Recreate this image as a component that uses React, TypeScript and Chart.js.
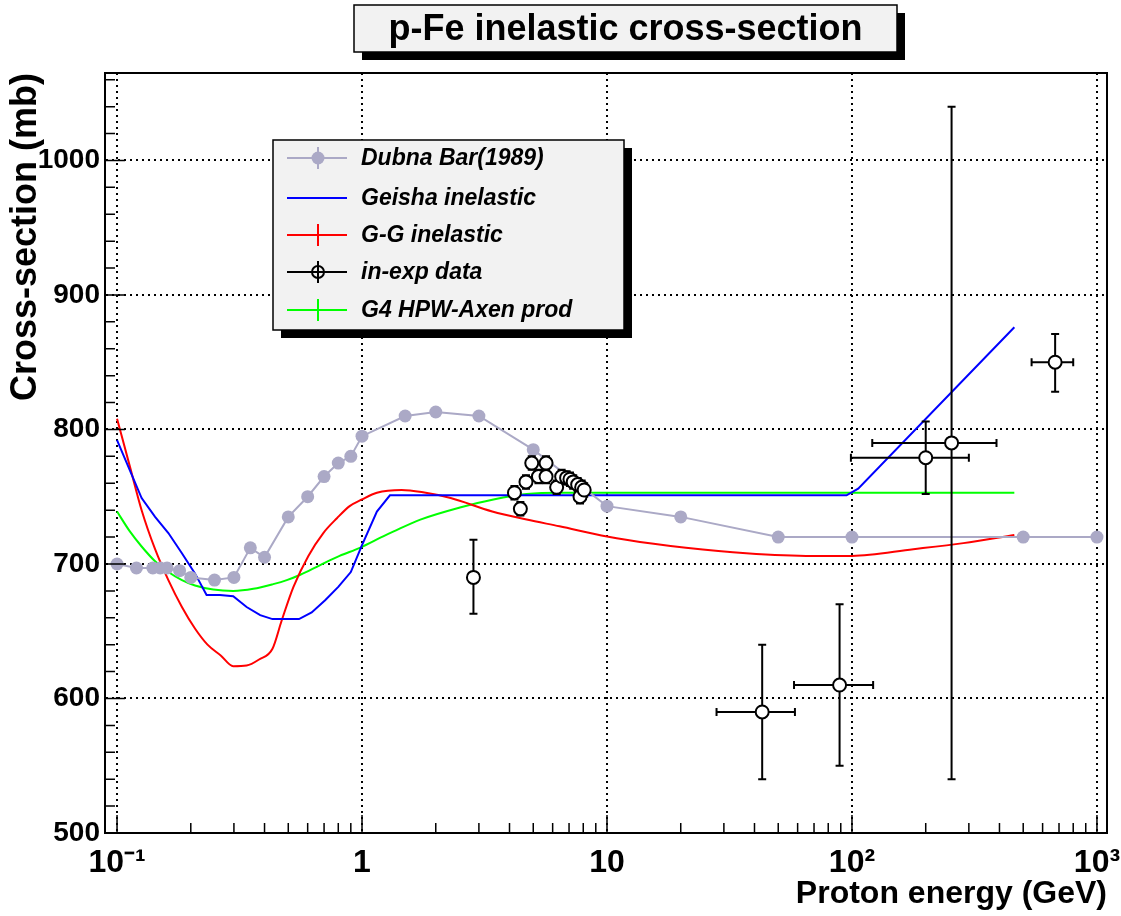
import React, { useEffect, useRef } from 'react';
import { Chart, registerables } from 'chart.js';
Chart.register(...registerables);

const FONT = '"Liberation Sans", Arial, Helvetica, sans-serif';

// ---- Dubna Bar (1989)
const dubnaE = [0.1, 0.12, 0.14, 0.15, 0.16, 0.18, 0.2, 0.25, 0.3, 0.35, 0.4, 0.5, 0.6, 0.7, 0.8, 0.9, 1, 1.5, 2, 3, 5, 10, 20, 50, 100, 500, 1000];
const dubnaXS = [700, 697, 697, 697, 697, 695, 690, 688, 690, 712, 705, 735, 750, 765, 775, 780, 795, 810, 813, 810, 785, 743, 735, 720, 720, 720, 720];

// ---- Geisha inelastic
const geishaE = [0.1, 0.126, 0.143, 0.162, 0.184, 0.208, 0.232, 0.263, 0.298, 0.338, 0.384, 0.431, 0.553, 0.623, 0.707, 0.8, 0.9, 1.0, 1.15, 1.3, 95, 106, 460];
const geishaXS = [792, 749, 735, 723, 708, 693, 677, 677, 676, 668, 662, 659, 659, 664, 673, 683, 694, 714, 739, 751, 751, 756, 876];

// ---- G-G inelastic
const ggE = [0.1, 0.113, 0.126, 0.143, 0.162, 0.184, 0.208, 0.234, 0.265, 0.298, 0.338, 0.38, 0.431, 0.47, 0.525, 0.604, 0.695, 0.79, 0.89, 1.0, 1.15, 1.45, 1.75, 2.3, 3.4, 4.7, 6.4, 10, 15.5, 21, 37, 69, 100, 178, 285, 460];
const ggXS = [808, 772, 740, 711, 688, 668, 652, 640, 632, 624, 624.5, 629, 637, 658, 683, 706, 723, 734, 743, 748, 753, 755, 753.5, 749, 739, 733, 728, 720.5, 715, 712, 708, 706, 706, 711, 715.5, 721.5];

// ---- G4 HPW-Axen prod
const g4E = [0.1, 0.113, 0.126, 0.143, 0.162, 0.184, 0.208, 0.247, 0.298, 0.36, 0.434, 0.493, 0.56, 0.672, 0.81, 0.98, 1.22, 1.34, 1.73, 2.51, 3.44, 4.7, 6.4, 460];
const g4XS = [739, 724, 713, 702, 694, 688, 684, 681, 680, 681.5, 685, 688, 692, 699, 706, 712, 720.5, 724, 733, 742, 748, 752, 753, 753];

// ---- in-exp data
const expE = [2.85, 4.19, 4.43, 4.67, 4.93, 5.25, 5.64, 5.64, 6.23, 6.53, 6.84, 7.06, 7.28, 7.59, 7.88, 7.76, 8.07, 43, 89, 200, 255, 675];
const expXS = [690, 753, 741, 761, 775, 765, 775, 765, 757, 765, 764, 763, 761, 759, 757, 750, 755, 590, 610, 779, 790, 850];
const expErrUp = [28, 5, 5, 5, 5, 5, 5, 5, 5, 5, 5, 5, 5, 5, 5, 5, 5, 50, 60, 27, 250, 21];
const expErrDown = [27, 5, 5, 5, 5, 5, 5, 5, 5, 5, 5, 5, 5, 5, 5, 5, 5, 50, 60, 27, 250, 22];
const expELow = [null, null, null, null, null, null, null, null, null, null, null, null, null, null, null, null, null, 28, 58, 99, 121, 541];
const expEHigh = [null, null, null, null, null, null, null, null, null, null, null, null, null, null, null, null, null, 58.5, 122, 300, 389, 800];

// ---- axes
const xTickValues = [0.1, 1, 10, 100, 1000];
const xTickLabels = ['10\u207B\u00B9', '1', '10', '10\u00B2', '10\u00B3'];
const xMinorTicks = [0.2, 0.3, 0.4, 0.5, 0.6, 0.7, 0.8, 0.9, 2, 3, 4, 5, 6, 7, 8, 9, 20, 30, 40, 50, 60, 70, 80, 90, 200, 300, 400, 500, 600, 700, 800, 900];
const yTickValues = [500, 600, 700, 800, 900, 1000];
const yTickLabels = ['500', '600', '700', '800', '900', '1000'];
const yMinorTicks = [520, 540, 560, 580, 620, 640, 660, 680, 720, 740, 760, 780, 820, 840, 860, 880, 920, 940, 960, 980, 1020, 1040, 1060];

const titleText = 'p-Fe inelastic cross-section';
const legendLabels = ['Dubna Bar(1989)', 'Geisha inelastic', 'G-G inelastic', 'in-exp data', 'G4 HPW-Axen prod'];

const GREY = '#aba9c6';

export default function App() {
  const ref = useRef<HTMLCanvasElement>(null);

  useEffect(() => {
    const canvas = ref.current;
    if (!canvas) return;

    const errPlugin = {
      id: 'errbars',
      beforeDatasetDraw(chart: any, args: any) {
        if (args.index !== 0) return;
        const xs = chart.scales.x, ys = chart.scales.y, ctx = chart.ctx;
        ctx.save();
        ctx.strokeStyle = '#000';
        ctx.lineWidth = 2;
        const cap = 4;
        for (let i = 0; i < expE.length; i++) {
          const px = xs.getPixelForValue(expE[i]);
          const py = ys.getPixelForValue(expXS[i]);
          const t = ys.getPixelForValue(expXS[i] + expErrUp[i]);
          const b = ys.getPixelForValue(expXS[i] - expErrDown[i]);
          ctx.beginPath();
          ctx.moveTo(px, t); ctx.lineTo(px, b);
          ctx.moveTo(px - cap, t); ctx.lineTo(px + cap, t);
          ctx.moveTo(px - cap, b); ctx.lineTo(px + cap, b);
          const lo = expELow[i], hi = expEHigh[i];
          if (lo != null && hi != null) {
            const l = xs.getPixelForValue(lo), r = xs.getPixelForValue(hi);
            ctx.moveTo(l, py); ctx.lineTo(r, py);
            ctx.moveTo(l, py - cap); ctx.lineTo(l, py + cap);
            ctx.moveTo(r, py - cap); ctx.lineTo(r, py + cap);
          }
          ctx.stroke();
        }
        ctx.restore();
      },
    };

    const framePlugin = {
      id: 'frame',
      afterDatasetsDraw(chart: any) {
        const { ctx, chartArea: a } = chart;
        const xs = chart.scales.x, ys = chart.scales.y;
        ctx.save();
        ctx.strokeStyle = '#000';
        ctx.lineWidth = 2;
        ctx.strokeRect(a.left, a.top, a.right - a.left, a.bottom - a.top);
        ctx.beginPath();
        xTickValues.forEach((v) => {
          const p = xs.getPixelForValue(v);
          ctx.moveTo(p, a.bottom); ctx.lineTo(p, a.bottom - 18);
        });
        xMinorTicks.forEach((v) => {
          const p = xs.getPixelForValue(v);
          ctx.moveTo(p, a.bottom); ctx.lineTo(p, a.bottom - 10);
        });
        yTickValues.forEach((v) => {
          const p = ys.getPixelForValue(v);
          ctx.moveTo(a.left, p); ctx.lineTo(a.left + 20, p);
        });
        yMinorTicks.forEach((v) => {
          const p = ys.getPixelForValue(v);
          ctx.moveTo(a.left, p); ctx.lineTo(a.left + 10, p);
        });
        ctx.lineWidth = 1.5;
        ctx.stroke();
        ctx.restore();
      },
    };

    const boxPlugin = {
      id: 'boxes',
      afterDraw(chart: any) {
        const ctx = chart.ctx;
        ctx.save();
        // title box
        const tb = { x: 354, y: 5, w: 543, h: 47 };
        ctx.fillStyle = '#000';
        ctx.fillRect(tb.x + 8, tb.y + 8, tb.w, tb.h);
        ctx.fillStyle = '#f2f2f2';
        ctx.fillRect(tb.x, tb.y, tb.w, tb.h);
        ctx.strokeStyle = '#000';
        ctx.lineWidth = 1.5;
        ctx.strokeRect(tb.x, tb.y, tb.w, tb.h);
        ctx.fillStyle = '#000';
        ctx.font = `bold 36px ${FONT}`;
        ctx.textAlign = 'center';
        ctx.textBaseline = 'middle';
        ctx.fillText(titleText, tb.x + tb.w / 2, tb.y + tb.h / 2 + 2);

        // legend box
        const lb = { x: 273, y: 140, w: 351, h: 190 };
        ctx.fillStyle = '#000';
        ctx.fillRect(lb.x + 8, lb.y + 8, lb.w, lb.h);
        ctx.fillStyle = '#f2f2f2';
        ctx.fillRect(lb.x, lb.y, lb.w, lb.h);
        ctx.strokeRect(lb.x, lb.y, lb.w, lb.h);
        const rows = [158, 198, 235, 272, 310];
        const colors = [GREY, '#0000ff', '#ff0000', '#000000', '#00ff00'];
        const x0 = 287, x1 = 347, xc = 318;
        rows.forEach((ry, i) => {
          ctx.strokeStyle = colors[i];
          ctx.lineWidth = 2;
          ctx.beginPath();
          ctx.moveTo(x0, ry); ctx.lineTo(x1, ry);
          if (i !== 1) { ctx.moveTo(xc, ry - 11); ctx.lineTo(xc, ry + 11); }
          ctx.stroke();
          if (i === 0) {
            ctx.fillStyle = GREY;
            ctx.beginPath(); ctx.arc(xc, ry, 6.5, 0, Math.PI * 2); ctx.fill();
          }
          if (i === 3) {
            ctx.beginPath(); ctx.arc(xc, ry, 6, 0, Math.PI * 2); ctx.stroke();
          }
          ctx.fillStyle = '#000';
          ctx.font = `italic bold 23px ${FONT}`;
          ctx.textAlign = 'left';
          ctx.textBaseline = 'middle';
          ctx.fillText(legendLabels[i], 361, ry + 1);
        });
        ctx.restore();
      },
    };

    const chart = new Chart(canvas, {
      type: 'line',
      data: {
        datasets: [
          {
            label: legendLabels[3],
            data: expE.map((e, i) => ({ x: e, y: expXS[i] })),
            showLine: false,
            pointRadius: 6.5,
            pointBackgroundColor: '#ffffff',
            pointBorderColor: '#000000',
            pointBorderWidth: 2,
            borderColor: '#000',
          },
          {
            label: legendLabels[0],
            data: dubnaE.map((e, i) => ({ x: e, y: dubnaXS[i] })),
            borderColor: GREY,
            borderWidth: 2,
            pointRadius: 6.5,
            pointBackgroundColor: GREY,
            pointBorderWidth: 0,
            tension: 0,
          },
          {
            label: legendLabels[1],
            data: geishaE.map((e, i) => ({ x: e, y: geishaXS[i] })),
            borderColor: '#0000ff',
            borderWidth: 2,
            pointRadius: 0,
            tension: 0,
          },
          {
            label: legendLabels[2],
            data: ggE.map((e, i) => ({ x: e, y: ggXS[i] })),
            borderColor: '#ff0000',
            borderWidth: 2,
            pointRadius: 0,
            cubicInterpolationMode: 'monotone',
          },
          {
            label: legendLabels[4],
            data: g4E.map((e, i) => ({ x: e, y: g4XS[i] })),
            borderColor: '#00ff00',
            borderWidth: 2,
            pointRadius: 0,
            cubicInterpolationMode: 'monotone',
          },
        ],
      } as any,
      options: {
        animation: false,
        responsive: false,
        devicePixelRatio: 1,
        layout: { padding: { top: 73, right: 14, left: 0, bottom: 0 } },
        plugins: { legend: { display: false }, tooltip: { enabled: false }, title: { display: false } },
        scales: {
          x: {
            type: 'logarithmic',
            min: 0.0893,
            max: 1099,
            afterBuildTicks: (s: any) => { s.ticks = xTickValues.map((v) => ({ value: v })); },
            afterFit: (s: any) => { s.height = 83; s.paddingLeft = 0; s.paddingRight = 0; },
            ticks: {
              autoSkip: false,
              maxRotation: 0,
              padding: 11,
              color: '#000',
              font: { family: FONT, size: 32, weight: 'bold' },
              callback: (v: any) => {
                const i = xTickValues.indexOf(Number(v));
                return i >= 0 ? xTickLabels[i] : '';
              },
            },
            grid: { color: '#000', lineWidth: 2, drawTicks: false },
            border: { display: true, color: '#000', width: 2, dash: [2, 4] },
            title: {
              display: true,
              text: 'Proton energy (GeV)',
              align: 'end',
              color: '#000',
              font: { family: FONT, size: 32, weight: 'bold', lineHeight: 1 },
              padding: { top: 0, bottom: 6 },
            },
          },
          y: {
            type: 'linear',
            min: 500,
            max: 1065,
            afterBuildTicks: (s: any) => { s.ticks = yTickValues.map((v) => ({ value: v })); },
            afterFit: (s: any) => { s.width = 105; },
            ticks: {
              padding: 5,
              color: '#000',
              font: { family: FONT, size: 28, weight: 'bold' },
              callback: (v: any) => {
                const i = yTickValues.indexOf(Number(v));
                return i >= 0 ? yTickLabels[i] : '';
              },
            },
            grid: { color: '#000', lineWidth: 2, drawTicks: false },
            border: { display: true, color: '#000', width: 2, dash: [2, 4] },
            title: {
              display: true,
              text: 'Cross-section (mb)',
              align: 'end',
              color: '#000',
              font: { family: FONT, size: 36, weight: 'bold', lineHeight: 1 },
              padding: { top: 8, bottom: 0 },
            },
          },
        },
      } as any,
      plugins: [errPlugin, framePlugin, boxPlugin],
    });

    return () => chart.destroy();
  }, []);

  return (
    <div style={{ position: 'absolute', left: 0, top: 0, width: 1121, height: 916, background: '#fff' }}>
      <canvas ref={ref} width={1121} height={916} style={{ display: 'block' }} />
    </div>
  );
}
